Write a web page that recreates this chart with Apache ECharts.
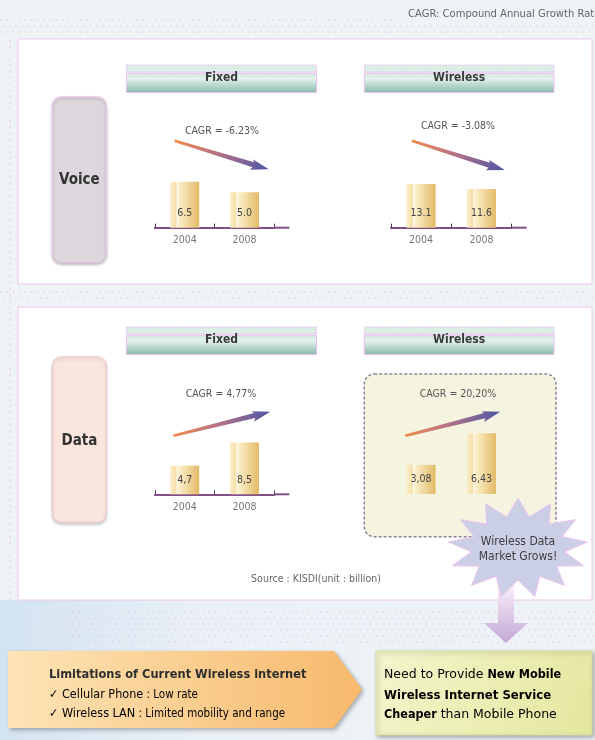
<!DOCTYPE html>
<html><head><meta charset="utf-8">
<script src="https://cdn.jsdelivr.net/npm/echarts@6.0.0/dist/echarts.min.js"></script>
<style>html,body{margin:0;padding:0;background:#eef3f6;}#c{width:595px;height:740px;}</style>
</head><body><div id="c"></div>
<script>
// ---- data ----
const years = ['2004', '2008'];
const voiceFixed = [6.5, 5.0];
const voiceWireless = [13.1, 11.6];
const dataFixed = [4.7, 8.5];
const dataWireless = [3.08, 6.43];
const cagrLabels = ['CAGR = -6.23%', 'CAGR = -3.08%', 'CAGR = 4,77%', 'CAGR = 20,20%'];
const sectionNames = ['Voice', 'Data'];
const columnTitles = ['Fixed', 'Wireless'];

const COND = "'DejaVu Sans Condensed', 'Liberation Sans Narrow', 'DejaVu Sans', sans-serif";
const SANS = "'DejaVu Sans', sans-serif";

const chart = echarts.init(document.getElementById('c'), null, {renderer: 'canvas'});

const barGrad = new echarts.graphic.LinearGradient(0, 0, 1, 0, [
  {offset: 0, color: '#fbeecb'}, {offset: 0.2, color: '#f5e0a8'},
  {offset: 0.24, color: '#fffaf0'}, {offset: 0.3, color: '#fcefca'},
  {offset: 1, color: '#e2ba66'}
]);

const grids = [
  {left: 154.8, top: 157.7, width: 119.6, height: 70},
  {left: 390.9, top: 157.7, width: 120.7, height: 70},
  {left: 154.8, top: 424.3, width: 119.6, height: 70},
  {left: 390.9, top: 424.0, width: 120.7, height: 70}
];
const yMax = [9.9, 21, 11.5, 7.4];

function xAx(i) {
  return {
    type: 'category', gridIndex: i, data: years, boundaryGap: true,
    axisLine: {lineStyle: {color: '#84508a', width: 2}, symbol: ['none', 'rect'], symbolSize: [2, 15], symbolOffset: [0, 7.5]},
    axisTick: {show: true, inside: true, length: 4, lineStyle: {color: '#5a3060', width: 1}},
    axisLabel: {color: '#777', fontSize: 10.5, margin: 7, fontFamily: COND}
  };
}
function yAx(i) { return {type: 'value', gridIndex: i, min: 0, max: yMax[i], show: false}; }
function barS(i, values, dec, sep) {
  return {
    type: 'bar', xAxisIndex: i, yAxisIndex: i, data: values, barWidth: 29, z: 5,
    itemStyle: {color: barGrad},
    label: {show: true, position: 'insideBottom', distance: 9, color: '#444', fontSize: 10.5, fontFamily: COND,
      formatter: p => Number(p.value).toFixed(dec).replace('.', sep)},
    silent: true
  };
}

function arrowPoly(x1, y1, x2, y2) {
  const dx = x2 - x1, dy = y2 - y1, L = Math.sqrt(dx * dx + dy * dy);
  const ux = dx / L, uy = dy / L, nx = -uy, ny = ux;
  const hl = 16;
  const bx = x2 - ux * hl, by = y2 - uy * hl;
  const pts = [
    [x1 + nx * 1.3, y1 + ny * 1.3],
    [bx + nx * 2.6, by + ny * 2.6],
    [bx - ux * 2 + nx * 6, by - uy * 2 + ny * 6],
    [x2, y2],
    [bx - ux * 2 - nx * 5, by - uy * 2 - ny * 5],
    [bx - nx * 2.6, by - ny * 2.6],
    [x1 - nx * 1.3, y1 - ny * 1.3]
  ];
  return {
    type: 'polygon', z: 20, shape: {points: pts},
    style: {fill: {type: 'linear', x: x1, y: y1, x2: x2, y2: y2, global: true,
      colorStops: [{offset: 0, color: '#f2894a'}, {offset: 0.45, color: '#b77486'}, {offset: 1, color: '#4d56a6'}]}}
  };
}

function header(x1, x2, yS, title) {
  const w = x2 - x1;
  return [
    {type: 'rect', z: 1, shape: {x: x1, y: yS, width: w, height: 7},
      style: {fill: '#dcefe7', stroke: '#f0bdf0', lineWidth: 1, lineDash: [2, 1]}},
    {type: 'rect', z: 1, shape: {x: x1, y: yS + 8, width: w, height: 19.5},
      style: {stroke: '#f0bdf0', lineWidth: 1,
        fill: new echarts.graphic.LinearGradient(0, 0, 0, 1, [{offset: 0, color: '#cfe6dc'}, {offset: 0.3, color: '#e4f2ec'}, {offset: 1, color: '#84baa5'}])}},
    {type: 'text', z: 2, style: {x: (x1 + x2) / 2, y: yS + 13, text: title, align: 'center', verticalAlign: 'middle',
      font: 'bold 12px ' + COND, fill: '#3a3a3a'}}
  ];
}

function dotRow(x1, x2, y) {
  return {type: 'line', z: 0, shape: {x1: x1, y1: y, x2: x2, y2: y},
    style: {stroke: '#f1b2ec', lineWidth: 1.2, lineDash: [1.2, 5]}};
}

// starburst
const star = [];
(function () {
  const cx = 518, cy = 548, N = 13;
  for (let i = 0; i < 2 * N; i++) {
    const a = Math.PI * i / N - Math.PI / 2;
    const outer = i % 2 === 0;
    const rx = outer ? 70 : 47, ry = outer ? 50 : 32;
    star.push([cx + rx * Math.cos(a), cy + ry * Math.sin(a)]);
  }
})();

const elements = [
  // background glow bottom-left
  {type: 'rect', z: -5, shape: {x: 0, y: 600, width: 595, height: 140},
    style: {fill: new echarts.graphic.LinearGradient(0, 0, 1, 0.3, [{offset: 0, color: '#d3e3f1'}, {offset: 0.35, color: '#eaf1f6'}, {offset: 1, color: '#eef3f6'}])}},
  dotRow(0, 400, 20), dotRow(3, 595, 26), dotRow(0, 595, 32),
  dotRow(0, 595, 292), dotRow(3, 595, 298),
  dotRow(60, 595, 612), dotRow(63, 595, 618), dotRow(60, 595, 624), dotRow(63, 595, 630), dotRow(60, 595, 636), dotRow(63, 595, 642),
  {type: 'line', z: 0, shape: {x1: 10, y1: 40, x2: 10, y2: 600}, style: {stroke: '#f1b2ec', lineWidth: 1.2, lineDash: [1.2, 5]}},
  // panels
  {type: 'rect', z: 0, shape: {x: 18, y: 39, width: 574, height: 245}, style: {fill: '#ffffff', stroke: '#f0c4f0', lineWidth: 1}},
  {type: 'rect', z: 0, shape: {x: 18, y: 307, width: 574, height: 293}, style: {fill: '#ffffff', stroke: '#f0c4f0', lineWidth: 1}},
  // top-right note
  {type: 'text', z: 3, style: {x: 408, y: 14, text: 'CAGR: Compound Annual Growth Rate', verticalAlign: 'middle', font: '10px ' + SANS, fill: '#666'}},
  // section labels
  {type: 'rect', z: 1, shape: {x: 52.4, y: 96.7, width: 54, height: 165.6, r: 9},
    style: {fill: '#dcd6dd', stroke: '#efc4ee', lineWidth: 1, shadowBlur: 3, shadowOffsetY: 2, shadowColor: 'rgba(0,0,0,0.25)'}},
  {type: 'text', z: 2, style: {x: 79.4, y: 180, text: sectionNames[0], align: 'center', verticalAlign: 'middle', font: 'bold 15px ' + COND, fill: '#333'}},
  {type: 'rect', z: 1, shape: {x: 52.4, y: 356.7, width: 54, height: 165.6, r: 9},
    style: {fill: '#fbe6dd', stroke: '#f0c8d8', lineWidth: 1, shadowBlur: 3, shadowOffsetY: 2, shadowColor: 'rgba(0,0,0,0.2)'}},
  {type: 'text', z: 2, style: {x: 79.4, y: 441, text: sectionNames[1], align: 'center', verticalAlign: 'middle', font: 'bold 15px ' + COND, fill: '#333'}},
  ...header(126.4, 316.5, 65, columnTitles[0]),
  ...header(364.3, 554, 65, columnTitles[1]),
  ...header(126.4, 316.5, 327, columnTitles[0]),
  ...header(364.3, 554, 327, columnTitles[1]),
  // dashed highlight box
  {type: 'rect', z: 1, shape: {x: 364.3, y: 374, width: 191.7, height: 162.7, r: 10},
    style: {fill: '#f4f4e1', stroke: '#8f8296', lineWidth: 1.5, lineDash: [3, 2]}},
  // CAGR texts
  {type: 'text', z: 20, style: {x: 222, y: 131, text: cagrLabels[0], align: 'center', verticalAlign: 'middle', font: '10.5px ' + COND, fill: '#555'}},
  {type: 'text', z: 20, style: {x: 458, y: 126, text: cagrLabels[1], align: 'center', verticalAlign: 'middle', font: '10.5px ' + COND, fill: '#555'}},
  {type: 'text', z: 20, style: {x: 221, y: 394, text: cagrLabels[2], align: 'center', verticalAlign: 'middle', font: '10.5px ' + COND, fill: '#555'}},
  {type: 'text', z: 20, style: {x: 458, y: 394, text: cagrLabels[3], align: 'center', verticalAlign: 'middle', font: '10.5px ' + COND, fill: '#555'}},
  arrowPoly(174.6, 140.7, 268.7, 169.3),
  arrowPoly(411.8, 140.7, 504.7, 170),
  arrowPoly(173.4, 435.7, 270.2, 411.7),
  arrowPoly(405.3, 435.7, 500.2, 411.7),
  // source
  {type: 'text', z: 20, style: {x: 316, y: 579, text: 'Source : KISDI(unit : billion)', align: 'center', verticalAlign: 'middle', font: '10.5px ' + COND, fill: '#666'}},
  // down arrow
  {type: 'polygon', z: 25, shape: {points: [[498, 585], [514, 585], [514, 623], [528, 623], [506, 643], [484, 623], [498, 623]]},
    style: {fill: new echarts.graphic.LinearGradient(0, 0, 0, 1, [{offset: 0, color: '#f8eef8'}, {offset: 1, color: '#c4a8d6'}])}},
  // starburst
  {type: 'polygon', z: 30, shape: {points: star}, style: {fill: '#cbcfe6', stroke: '#f0c4f0', lineWidth: 1}},
  {type: 'text', z: 31, style: {x: 518, y: 542, text: 'Wireless Data', align: 'center', verticalAlign: 'middle', font: '12px ' + COND, fill: '#3e3e3e'}},
  {type: 'text', z: 31, style: {x: 518, y: 557, text: 'Market Grows!', align: 'center', verticalAlign: 'middle', font: '12px ' + COND, fill: '#3e3e3e'}},
  // bottom left arrow box
  {type: 'polygon', z: 10, shape: {points: [[8, 651], [334, 651], [362, 689.5], [334, 728], [8, 728]]},
    style: {fill: new echarts.graphic.LinearGradient(0, 0, 1, 0, [{offset: 0, color: '#fde4b6'}, {offset: 1, color: '#f7b96c'}]),
      shadowBlur: 4, shadowOffsetX: 2, shadowOffsetY: 2, shadowColor: 'rgba(0,0,0,0.3)'}},
  {type: 'text', z: 11, style: {x: 49, y: 675, text: 'Limitations of Current Wireless internet', verticalAlign: 'middle', font: 'bold 12.7px ' + COND, fill: '#2e2e2e'}},
  {type: 'text', z: 11, style: {x: 49, y: 695, verticalAlign: 'middle', text: '{a|✓ Cellular Phone} {b|: Low rate}',
    rich: {a: {fontSize: 12.5, fontFamily: COND, color: '#444'}, b: {fontSize: 11.5, fontFamily: COND, color: '#555'}}}},
  {type: 'text', z: 11, style: {x: 49, y: 714, verticalAlign: 'middle', text: '{a|✓ Wireless LAN} {b|: Limited mobility and range}',
    rich: {a: {fontSize: 12.5, fontFamily: COND, color: '#444'}, b: {fontSize: 11.5, fontFamily: COND, color: '#555'}}}},
  // bottom right box
  {type: 'rect', z: 10, shape: {x: 376, y: 651, width: 216, height: 84},
    style: {fill: new echarts.graphic.LinearGradient(0, 0, 1, 1, [{offset: 0, color: '#f4f5cc'}, {offset: 1, color: '#e4e79e'}]),
      stroke: '#d8dca0', lineWidth: 1, shadowBlur: 4, shadowOffsetX: 2, shadowOffsetY: 2, shadowColor: 'rgba(0,0,0,0.3)'}},
  {type: 'text', z: 11, style: {x: 384, y: 675, verticalAlign: 'middle', text: '{n|Need to Provide }{b|New Mobile}',
    rich: {n: {fontSize: 12.5, fontFamily: SANS, color: '#555'}, b: {fontSize: 12.5, fontFamily: COND, fontWeight: 'bold', color: '#2a2a2a'}}}},
  {type: 'text', z: 11, style: {x: 384, y: 696, verticalAlign: 'middle', text: '{b|Wireless Internet Service}',
    rich: {b: {fontSize: 13, fontFamily: COND, fontWeight: 'bold', color: '#2a2a2a'}}}},
  {type: 'text', z: 11, style: {x: 384, y: 715, verticalAlign: 'middle', text: '{b|Cheaper}{n| than Mobile Phone}',
    rich: {n: {fontSize: 12.5, fontFamily: SANS, color: '#555'}, b: {fontSize: 12.5, fontFamily: COND, fontWeight: 'bold', color: '#2a2a2a'}}}}
];

chart.setOption({
  backgroundColor: '#eef3f6',
  animation: false,
  grid: grids,
  xAxis: [xAx(0), xAx(1), xAx(2), xAx(3)],
  yAxis: [yAx(0), yAx(1), yAx(2), yAx(3)],
  series: [
    barS(0, voiceFixed, 1, '.'),
    barS(1, voiceWireless, 1, '.'),
    barS(2, dataFixed, 1, ','),
    barS(3, dataWireless, 2, ',')
  ],
  graphic: {elements: elements}
});
</script>
</body></html>
